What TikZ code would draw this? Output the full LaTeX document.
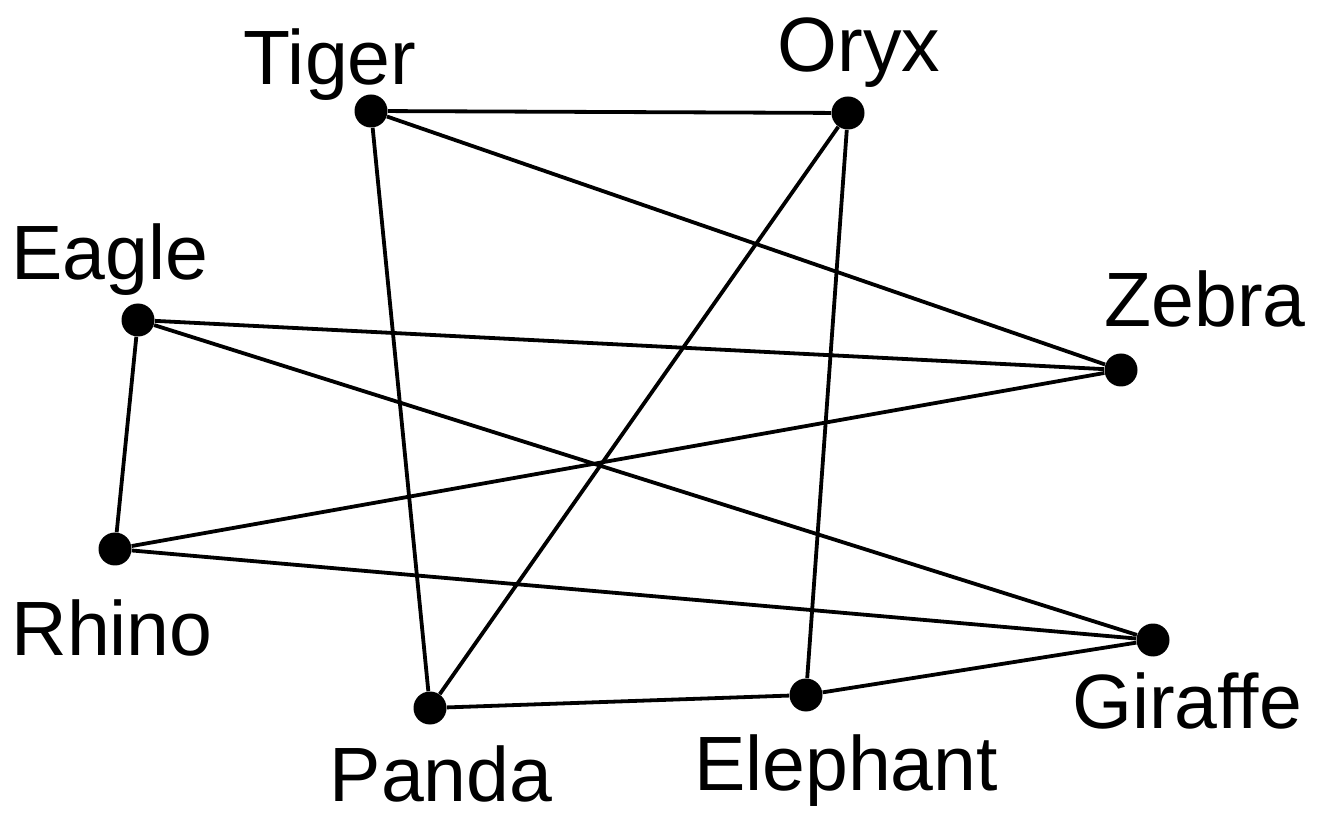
\documentclass[tikz,border=0pt]{standalone}
\usepackage{fontspec}
\setmainfont{Liberation Sans}
\begin{document}
\begin{tikzpicture}[x=0.5pt,y=-0.5pt,
  dot/.style={circle,fill=black,inner sep=0pt,minimum size=16.5pt},
  lab/.style={anchor=base,inner sep=0pt,font=\fontsize{38.5}{40}\selectfont},
  edge/.style={line width=1.9pt}]
\useasboundingbox (0,0) rectangle (1319,818);
\node[dot] (tiger) at (371,111) {};
\node[dot] (oryx) at (848,113) {};
\node[dot] (eagle) at (138,320) {};
\node[dot] (zebra) at (1121,370) {};
\node[dot] (rhino) at (115,549) {};
\node[dot] (giraffe) at (1153,640) {};
\node[dot] (panda) at (430,708) {};
\node[dot] (elephant) at (806,695) {};
\node[lab] (ltiger) at (330,85) {Tiger};
\node[lab] (loryx) at (859,72) {Oryx};
\node[lab] (leagle) at (110,280) {Eagle};
\node[lab] (lzebra) at (1205,327) {Zebra};
\node[lab] (lrhino) at (112,655) {Rhino};
\node[lab] (lgiraffe) at (1187,728) {Giraffe};
\node[lab] (lpanda) at (441,801) {Panda};
\node[lab] (lelephant) at (846,790) {Elephant};
\draw[edge] (tiger) -- (oryx);
\draw[edge] (tiger) -- (zebra);
\draw[edge] (tiger) -- (panda);
\draw[edge] (oryx) -- (panda);
\draw[edge] (oryx) -- (elephant);
\draw[edge] (eagle) -- (zebra);
\draw[edge] (eagle) -- (rhino);
\draw[edge] (eagle) -- (giraffe);
\draw[edge] (rhino) -- (zebra);
\draw[edge] (rhino) -- (giraffe);
\draw[edge] (panda) -- (elephant);
\draw[edge] (elephant) -- (giraffe);
\end{tikzpicture}
\end{document}
